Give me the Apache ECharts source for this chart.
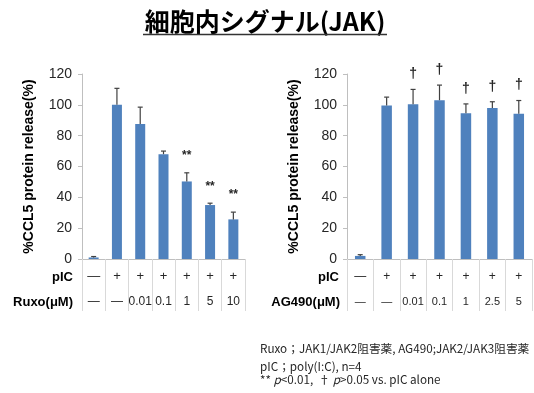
<!DOCTYPE html>
<html>
<head>
<meta charset="utf-8">
<script src="https://cdn.jsdelivr.net/npm/echarts@6/dist/echarts.min.js"></script>
<style>
  html, body { margin: 0; padding: 0; background: #fff; }
  #chart { width: 534px; height: 393px; }
</style>
</head>
<body>
<div id="chart"></div>
<script>
// Ruxolitinib panel
const ruxPIC  = ['—', '+', '+', '+', '+', '+', '+'];
const ruxDose = ['—', '—', '0.01', '0.1', '1', '5', '10'];
const ruxMean = [1, 100, 87.5, 68, 50.3, 35, 25.7];
const ruxErr  = [0.6, 10.7, 11, 2, 5.6, 1.2, 4.7];
const ruxSig  = ['', '', '', '', '**', '**', '**'];

// AG490 panel
const agPIC  = ['—', '+', '+', '+', '+', '+', '+'];
const agDose = ['—', '—', '0.01', '0.1', '1', '2.5', '5'];
const agMean = [2, 99.5, 100.4, 103, 94.6, 98, 94.2];
const agErr  = [0.8, 5.5, 9.6, 9.8, 6, 4, 8.6];
const agSig  = ['', '', '†', '†', '†', '†', '†'];

// y-axis ticks
const yTicks = [0, 20, 40, 60, 80, 100, 120];

const BAR = '#4f81bd';
const ERR = '#404040';
const LATIN = 'Liberation Sans, Arial, sans-serif';
const CJK = 'Noto Sans CJK JP, sans-serif';

const chart = echarts.init(document.getElementById('chart'));

function xAxisFor(gridIndex, pic, dose, sizeA, sizeB) {
  return {
    type: 'category',
    gridIndex: gridIndex,
    data: pic.map((_, i) => String(i)),
    axisLine: { lineStyle: { color: '#bfbfbf' } },
    axisTick: { show: true, length: 52, lineStyle: { color: '#d9d9d9' }, alignWithLabel: false },
    axisLabel: {
      interval: 0,
      margin: 5,
      color: '#262626',
      fontFamily: LATIN,
      formatter: (v, i) => '{a|' + pic[i] + '}\n{b|' + dose[i] + '}',
      rich: {
        a: { fontSize: sizeA, lineHeight: 25, fontFamily: LATIN, color: '#262626' },
        b: { fontSize: sizeB, lineHeight: 25, fontFamily: LATIN, color: '#262626' }
      }
    }
  };
}

function yAxisFor(gridIndex) {
  return {
    type: 'value',
    gridIndex: gridIndex,
    min: yTicks[0],
    max: yTicks[yTicks.length - 1],
    interval: yTicks[1] - yTicks[0],
    name: '%CCL5 protein release(%)',
    nameLocation: 'middle',
    nameGap: 46,
    nameTextStyle: { fontSize: 14, fontWeight: 'bold', color: '#000', fontFamily: LATIN },
    splitLine: { show: false },
    axisLine: { show: true, lineStyle: { color: '#bfbfbf' } },
    axisTick: { show: true, length: 4, lineStyle: { color: '#bfbfbf' } },
    axisLabel: { fontSize: 14, color: '#262626', fontFamily: LATIN, margin: 10 }
  };
}

// upper error bar with cap, plus significance mark above it
function errRender(params, api) {
  const i = api.value(0);
  const top = api.coord([i, api.value(1) + api.value(2)]);
  const base = api.coord([i, api.value(1)]);
  const sig = params.seriesIndex === 1 ? ruxSig[i] : agSig[i];
  const children = [
    { type: 'line', shape: { x1: top[0], y1: base[1], x2: top[0], y2: top[1] },
      style: { stroke: ERR, lineWidth: 1.2 } },
    { type: 'line', shape: { x1: top[0] - 2.5, y1: top[1], x2: top[0] + 2.5, y2: top[1] },
      style: { stroke: ERR, lineWidth: 1.2 } }
  ];
  if (sig) {
    const dagger = sig === '†';
    children.push({
      type: 'text',
      x: top[0], y: dagger ? top[1] - 15 : top[1] - 17,
      style: {
        text: sig, align: 'center', verticalAlign: 'middle',
        fontSize: dagger ? 14 : 12, fontWeight: 'bold',
        fill: '#262626', fontFamily: LATIN
      }
    });
  }
  return { type: 'group', children: children };
}

chart.setOption({
  animation: false,
  backgroundColor: '#fff',
  grid: [
    { left: 82, top: 74, width: 163, height: 185 },
    { left: 347, top: 74, width: 185, height: 185 }
  ],
  xAxis: [
    xAxisFor(0, ruxPIC, ruxDose, 13, 12),
    xAxisFor(1, agPIC, agDose, 12, 11)
  ],
  yAxis: [yAxisFor(0), yAxisFor(1)],
  series: [
    { type: 'bar', xAxisIndex: 0, yAxisIndex: 0, data: ruxMean, barWidth: 10,
      itemStyle: { color: BAR } },
    { type: 'custom', xAxisIndex: 0, yAxisIndex: 0, renderItem: errRender, z: 5,
      data: ruxMean.map((m, i) => [i, m, ruxErr[i]]) },
    { type: 'bar', xAxisIndex: 1, yAxisIndex: 1, data: agMean, barWidth: 10.5,
      itemStyle: { color: BAR } },
    { type: 'custom', xAxisIndex: 1, yAxisIndex: 1, renderItem: errRender, z: 5,
      data: agMean.map((m, i) => [i, m, agErr[i]]) }
  ],
  graphic: [
    { type: 'text', x: 265, y: 21,
      style: { text: '細胞内シグナル(JAK)', align: 'center', verticalAlign: 'middle',
        fontSize: 25, fontWeight: 'bold', fill: '#000', fontFamily: CJK } },
    { type: 'line', shape: { x1: 143, y1: 34.5, x2: 387, y2: 34.5 },
      style: { stroke: '#333', lineWidth: 1.5 } },
    // row headers under the axes
    { type: 'text', x: 73, y: 277,
      style: { text: 'pIC', align: 'right', verticalAlign: 'middle', fontSize: 13,
        fontWeight: 'bold', fill: '#000', fontFamily: LATIN } },
    { type: 'text', x: 73, y: 302,
      style: { text: 'Ruxo(μM)', align: 'right', verticalAlign: 'middle', fontSize: 13,
        fontWeight: 'bold', fill: '#000', fontFamily: LATIN } },
    { type: 'text', x: 339, y: 277,
      style: { text: 'pIC', align: 'right', verticalAlign: 'middle', fontSize: 13,
        fontWeight: 'bold', fill: '#000', fontFamily: LATIN } },
    { type: 'text', x: 340, y: 302,
      style: { text: 'AG490(μM)', align: 'right', verticalAlign: 'middle', fontSize: 13,
        fontWeight: 'bold', fill: '#000', fontFamily: LATIN } },
    // footnotes
    { type: 'text', x: 260, y: 349,
      style: { text: 'Ruxo；JAK1/JAK2阻害薬, AG490;JAK2/JAK3阻害薬', verticalAlign: 'middle',
        fontSize: 11.7, fill: '#262626', fontFamily: CJK } },
    { type: 'text', x: 260, y: 366.5,
      style: { text: 'pIC；poly(I:C), n=4', verticalAlign: 'middle',
        fontSize: 11.7, fill: '#262626', fontFamily: CJK } },
    { type: 'text', x: 260, y: 379.5,
      style: { text: '** {i|p}<0.01,  † {i|p}>0.05 vs. pIC alone', verticalAlign: 'middle',
        fontSize: 11.7, fill: '#262626', fontFamily: CJK,
        rich: { i: { fontStyle: 'italic', fontSize: 11.7, fill: '#262626', fontFamily: CJK } } } }
  ]
});
</script>
</body>
</html>
